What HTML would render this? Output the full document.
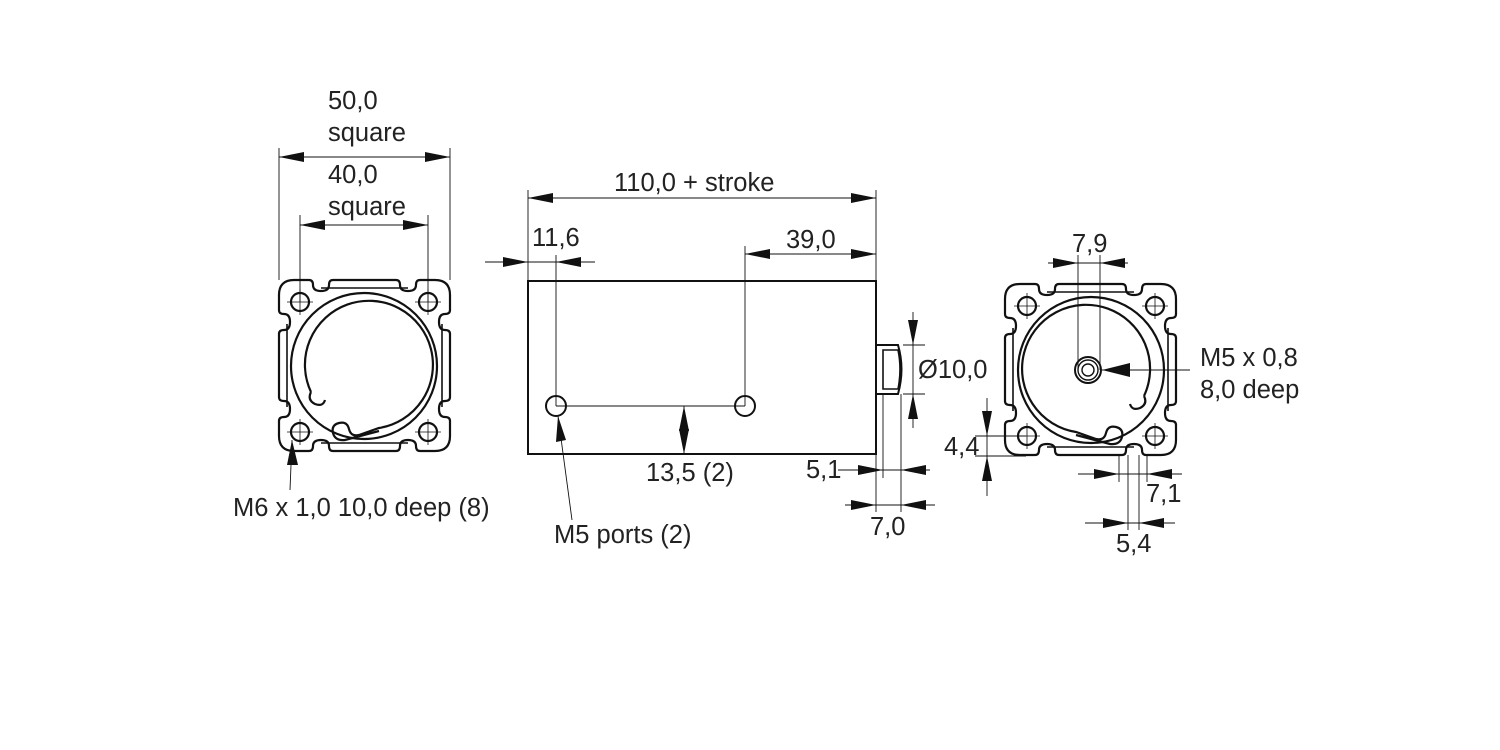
<!DOCTYPE html>
<html><head><meta charset="utf-8"><style>
html,body{margin:0;padding:0;background:#fff;}
svg{display:block}
text{font-family:"Liberation Sans",sans-serif;font-size:25.5px;fill:#222;}
</style></head><body>
<svg width="1500" height="750" viewBox="0 0 1500 750" xmlns="http://www.w3.org/2000/svg">
<defs>
<g id="prof" fill="none" stroke="#111" stroke-width="2.2">
  <path d="M15,0 H30 q4,0 4,5 q0,6 8,6 q8,0 8,-6 q0,-5 4,-5 H117 q4,0 4,5 q0,6 8,6 q8,0 8,-6 q0,-5 4,-5 H156 q15,0 15,15 V30 q0,4 -5,4 q-6,0 -6,8 q0,8 6,8 q5,0 5,4 V117 q0,4 -5,4 q-6,0 -6,8 q0,8 6,8 q5,0 5,4 V156 q0,15 -15,15 H141 q-4,0 -4,-5 q0,-6 -8,-6 q-8,0 -8,6 q0,5 -4,5 H54 q-4,0 -4,-5 q0,-6 -8,-6 q-8,0 -8,6 q0,5 -4,5 H15 q-15,0 -15,-15 V141 q0,-4 5,-4 q6,0 6,-8 q0,-8 -6,-8 q-5,0 -5,-4 V54 q0,-4 5,-4 q6,0 6,-8 q0,-8 -6,-8 q-5,0 -5,-4 V15 q0,-15 15,-15 Z"/>
  <path d="M42,8 H129 M163,44 V127 M42,163 H129 M8,44 V127" stroke-width="1.6"/>
  <circle cx="85" cy="86" r="73"/>
  <path d="M32,112 A64,64 0 1 1 100,148 L80,155 q-8,2 -10,-6 q-2,-8 -10,-6 q-8,2 -6,10 q2,8 12,7 L100,151"/>
  <path d="M32,112 q-4,8 4,12 q8,3 10,-4"/>
  <circle cx="21" cy="22" r="9"/><circle cx="149" cy="22" r="9"/>
  <circle cx="21" cy="152" r="9"/><circle cx="149" cy="152" r="9"/>
  <path d="M8,22 H34 M21,9 V35 M136,22 H162 M149,9 V35 M8,152 H34 M21,139 V165 M136,152 H162 M149,139 V165" stroke-width="0.8"/>
</g>
</defs>

<use href="#prof" x="279" y="280"/>
<use href="#prof" transform="translate(1176,284) scale(-1,1)"/>

<g stroke="#111" stroke-width="0.9" fill="none">
  <path d="M279,148V280 M450,148V280 M279,157H450 M300,215V302 M428,215V302 M300,225H428"/>
  <path d="M292,440L290,490"/>
  <path d="M528,190V281 M876,190V281 M528,198H876"/>
  <path d="M485,262H595 M556,255V406 M745,246V406 M745,254H876"/>
  <path d="M556,406H745 M684,406V454"/>
  <path d="M558,416L572,520"/>
  <path d="M903,345H925 M903,394H925 M913,312V428"/>
  <path d="M876,454V512 M883,394V478 M901,394V512 M838,470H930 M845,505H935"/>
  <path d="M1078,255V370 M1100,255V370 M1048,263H1128 M1102,370H1190"/>
  <path d="M975,436H1026 M975,456H1026 M987,398V496"/>
  <path d="M1119,455V482 M1147,455V482 M1078,474H1182 M1128,455V530 M1139,455V530 M1085,523H1175"/>
</g>
<g stroke="#111" stroke-width="2" fill="none">
  <rect x="528" y="281" width="348" height="173"/>
  <path d="M876,345H898 Q905,369 898,394 H876"/>
  <path d="M883,350H898 Q902,369 898,389 H883Z" stroke-width="1.6"/>
  <circle cx="556" cy="406" r="10"/><circle cx="745" cy="406" r="10"/>
  <circle cx="1088" cy="370" r="13"/><circle cx="1088" cy="370" r="10" stroke-width="1.4"/><circle cx="1088" cy="370" r="6" stroke-width="1.4"/>
</g>
<g fill="#111">
  <polygon points="279,157 304,152 304,162"/><polygon points="450,157 425,152 425,162"/>
  <polygon points="300,225 325,220 325,230"/><polygon points="428,225 403,220 403,230"/>
  <polygon points="292,440 287,465 298,465"/>
  <polygon points="528,198 553,193 553,203"/><polygon points="876,198 851,193 851,203"/>
  <polygon points="528,262 503,257 503,267"/><polygon points="556,262 581,257 581,267"/>
  <polygon points="745,254 770,249 770,259"/><polygon points="876,254 851,249 851,259"/>
  <polygon points="684,406 679,431 689,431"/><polygon points="684,454 679,429 689,429"/>
  <polygon points="558,416 556,442 566,440"/>
  <polygon points="913,345 908,320 918,320"/><polygon points="913,394 908,419 918,419"/>
  <polygon points="883,470 858,465 858,475"/><polygon points="901,470 926,465 926,475"/>
  <polygon points="876,505 851,500 851,510"/><polygon points="901,505 926,500 926,510"/>
  <polygon points="1078,263 1053,258 1053,268"/><polygon points="1100,263 1125,258 1125,268"/>
  <polygon points="1102,370 1130,363 1130,377"/>
  <polygon points="987,436 982,411 992,411"/><polygon points="987,456 982,481 992,481"/>
  <polygon points="1119,474 1094,469 1094,479"/><polygon points="1147,474 1172,469 1172,479"/>
  <polygon points="1128,523 1103,518 1103,528"/><polygon points="1139,523 1164,518 1164,528"/>
</g>
<g>
  <text x="328" y="109">50,0</text><text x="328" y="141">square</text>
  <text x="328" y="183">40,0</text><text x="328" y="215">square</text>
  <text x="233" y="516">M6 x 1,0 10,0 deep (8)</text>
  <text x="614" y="191">110,0 + stroke</text>
  <text x="532" y="246">11,6</text>
  <text x="786" y="248">39,0</text>
  <text x="646" y="481">13,5 (2)</text>
  <text x="554" y="543">M5 ports (2)</text>
  <text x="918" y="378">Ø10,0</text>
  <text x="806" y="478">5,1</text>
  <text x="870" y="535">7,0</text>
  <text x="1072" y="252">7,9</text>
  <text x="1200" y="366">M5 x 0,8</text><text x="1200" y="398">8,0 deep</text>
  <text x="944" y="455">4,4</text>
  <text x="1146" y="502">7,1</text>
  <text x="1116" y="552">5,4</text>
</g>
</svg>
</body></html>
